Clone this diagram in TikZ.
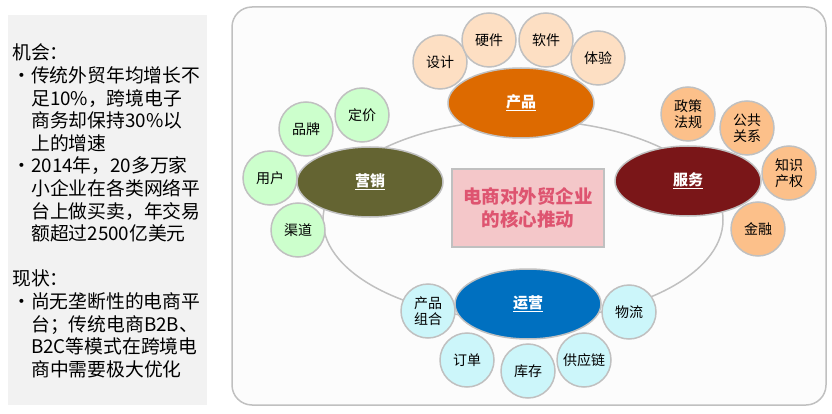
\documentclass[tikz,border=0pt]{standalone}
\usepackage{fontspec}
\setmainfont{Noto Sans CJK SC}
\usepackage{xcolor}
\usetikzlibrary{shapes.geometric}
\definecolor{LineGray}{RGB}{192, 192, 192}
\definecolor{PanelBg}{RGB}{242, 242, 242}
\definecolor{FrameBg}{RGB}{252, 252, 252}
\definecolor{ProductFill}{RGB}{221, 106, 0}
\definecolor{MarketFill}{RGB}{100, 100, 50}
\definecolor{ServiceFill}{RGB}{122, 22, 24}
\definecolor{OperateFill}{RGB}{0, 112, 192}
\definecolor{ProductSub}{RGB}{253, 223, 195}
\definecolor{MarketSub}{RGB}{204, 255, 204}
\definecolor{ServiceSub}{RGB}{252, 192, 138}
\definecolor{OperateSub}{RGB}{204, 246, 250}
\definecolor{CoreFill}{RGB}{244, 199, 201}
\definecolor{CoreText}{RGB}{222, 84, 112}
\newcommand{\bul}{\makebox[19pt][l]{•}}
\newcommand{\ind}{\hspace*{19pt}}

\begin{document}
\begin{tikzpicture}[x=1pt, y=-1pt,
    mainellipse/.style={
      ellipse,
      draw=LineGray,
      line width=1.5pt,
      minimum width=146pt,
      minimum height=70pt,
      inner sep=0pt,
      text=white,
      font=\fontsize{15}{18}\selectfont\bfseries
    },
    subcircle/.style={
      circle,
      draw=LineGray,
      line width=1.5pt,
      minimum size=54pt,
      inner sep=0pt,
      align=center,
      font=\fontsize{14}{16.5}\selectfont
    }]
  \useasboundingbox (0,0) rectangle (832,414);

  \node[fill=PanelBg, minimum width=199pt, minimum height=390pt, inner sep=0pt,
        anchor=north west] (panel) at (8,15) {};
  \node[
    anchor=north west,
    inner sep=0pt,
    align=left,
    font=\fontsize{18.8}{22.6}\selectfont
  ] (paneltext) at (12,44) {
    机会：\\
    \bul 传统外贸年均增长不\\
    \ind 足10\%，跨境电子\\
    \ind 商务却保持30\%以\\
    \ind 上的增速\\
    \bul 2014年，20多万家\\
    \ind 小企业在各类网络平\\
    \ind 台上做买卖，年交易\\
    \ind 额超过2500亿美元\\[22.6pt]
    现状：\\
    \bul 尚无垄断性的电商平\\
    \ind 台；传统电商B2B、\\
    \ind B2C等模式在跨境电\\
    \ind 商中需要极大优化
  };

  \draw[LineGray, line width=1.5pt, fill=FrameBg, rounded corners=20pt]
    (232,7) rectangle (826,405);
  \node[ellipse, draw=LineGray, line width=1.5pt, minimum width=400pt,
        minimum height=200pt, inner sep=0pt] (ring) at (523,220) {};

  \node[fill=CoreFill, draw=LineGray, line width=1.5pt, minimum width=152pt,
        minimum height=78pt, inner sep=0pt, align=center, text=CoreText,
        font=\fontsize{18.5}{23}\selectfont\bfseries] (core) at (528,208)
    {电商对外贸企业\\的核心推动};

  \node[mainellipse, fill=ProductFill] (product) at (521,103) {\underline{产品}};
  \node[mainellipse, fill=MarketFill] (market) at (370,182) {\underline{营销}};
  \node[mainellipse, fill=ServiceFill] (service) at (688,181) {\underline{服务}};
  \node[mainellipse, fill=OperateFill] (operate) at (528,304) {\underline{运营}};

  \node[subcircle, fill=ProductSub] (design) at (440,62) {设计};
  \node[subcircle, fill=ProductSub] (hardware) at (489,40) {硬件};
  \node[subcircle, fill=ProductSub] (software) at (546,40) {软件};
  \node[subcircle, fill=ProductSub] (experience) at (598,58) {体验};

  \node[subcircle, fill=MarketSub] (brand) at (306,129) {品牌};
  \node[subcircle, fill=MarketSub] (pricing) at (362,115) {定价};
  \node[subcircle, fill=MarketSub] (user) at (270,178) {用户};
  \node[subcircle, fill=MarketSub] (channel) at (298,230) {渠道};

  \node[subcircle, fill=ServiceSub] (policy) at (688,114) {政策\\法规};
  \node[subcircle, fill=ServiceSub] (relation) at (747,128) {公共\\关系};
  \node[subcircle, fill=ServiceSub] (patent) at (789,173) {知识\\产权};
  \node[subcircle, fill=ServiceSub] (finance) at (758,229) {金融};

  \node[subcircle, fill=OperateSub] (portfolio) at (428,311) {产品\\组合};
  \node[subcircle, fill=OperateSub] (logistics) at (629,312) {物流};
  \node[subcircle, fill=OperateSub] (order) at (467,360) {订单};
  \node[subcircle, fill=OperateSub] (stock) at (528,371) {库存};
  \node[subcircle, fill=OperateSub] (supply) at (584,360) {供应链};
\end{tikzpicture}
\end{document}
